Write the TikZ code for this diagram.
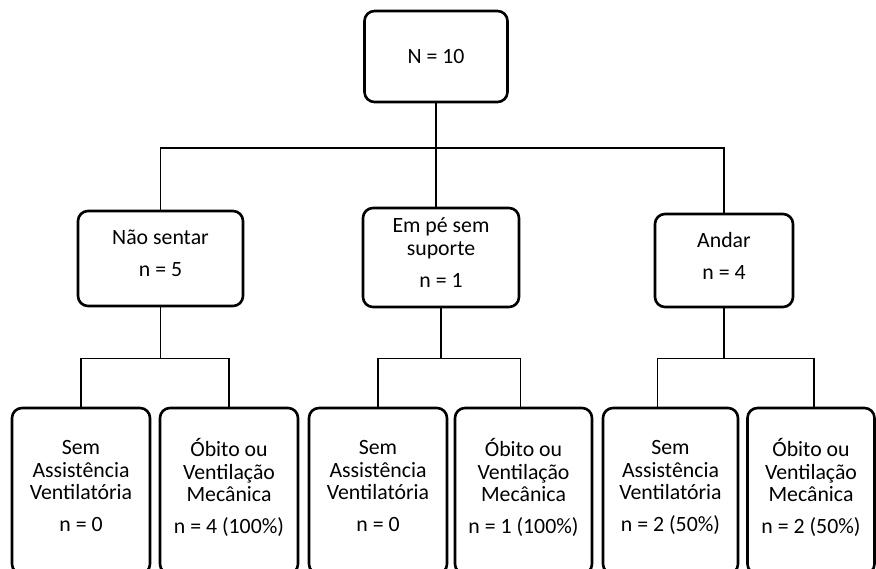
\documentclass[tikz,border=0pt]{standalone}
\usepackage{fontspec}
\setmainfont{Carlito}
\usetikzlibrary{calc}

\begin{document}
\lineskiplimit=-100pt
\begin{tikzpicture}[x=1pt, y=-1pt,
        box/.style={draw, line width=2.6pt, rounded corners=10pt, align=center,
            inner sep=0pt, font=\fontsize{21.8}{22.5}\selectfont,
            execute at begin node=\rule{0pt}{24pt},
            execute at end node=\rule[-10pt]{0pt}{10pt}},
        link/.style={line width=1.1pt}]
        \useasboundingbox (0,0) rectangle (876,569);
        \clip (0,0) rectangle (876,569);

        % Top box
        \node[box, minimum width=143, minimum height=91] (top) at (436,56.5) {N = 10};

        % Middle row
        \node[box, minimum width=165, minimum height=95] (sentar) at (160.5,258.5) {Não sentar\\[9.5pt]n = 5};
        \node[box, minimum width=156, minimum height=99] (empe) at (441,257.5) {Em pé sem\\suporte\\[9.5pt]n = 1};
        \node[box, minimum width=138, minimum height=93] (andar) at (724,260.5) {Andar\\[9.5pt]n = 4};

        % Bottom row
        \node[box, minimum width=138, minimum height=166] (sem1) at (81,491) {Sem\\Assistência\\Ventilatória\\[9.5pt]n = 0};
        \node[box, minimum width=138, minimum height=166] (obito1) at (229,491) {Óbito ou\\Ventilação\\Mecânica\\[9.5pt]n = 4 (100\%)};
        \node[box, minimum width=138, minimum height=166] (sem2) at (378,491) {Sem\\Assistência\\Ventilatória\\[9.5pt]n = 0};
        \node[box, minimum width=137, minimum height=166] (obito2) at (523.5,491) {Óbito ou\\Ventilação\\Mecânica\\[9.5pt]n = 1 (100\%)};
        \node[box, minimum width=135, minimum height=166] (sem3) at (670.5,491) {Sem\\Assistência\\Ventilatória\\[9.5pt]n = 2 (50\%)};
        \node[box, minimum width=127, minimum height=166] (obito3) at (811,491) {Óbito ou\\Ventilação\\Mecânica\\[9.5pt]n = 2 (50\%)};

        % Branch levels
        \coordinate (lvl1) at (0,148);
        \coordinate (lvl2) at (0,358.5);

        % Top to middle row
        \draw[link] (top.south) -- (top.south |- lvl1);
        \draw[link] (sentar.north) |- (andar.north |- lvl1) -- (andar.north);
        \draw[link] (top.south |- lvl1) -- (top.south |- empe.north);

        % Middle to bottom row
        \draw[link] (sentar.south) -- (sentar.south |- lvl2);
        \draw[link] (sem1.north) |- (obito1.north |- lvl2) -- (obito1.north);
        \draw[link] (empe.south) -- (empe.south |- lvl2);
        \draw[link] (sem2.north) |- ([xshift=-3pt]obito2.north |- lvl2) -- ([xshift=-3pt]obito2.north);
        \draw[link] (andar.south) -- (andar.south |- lvl2);
        \draw[link] ([xshift=-13pt]sem3.north) |- ([xshift=3pt]obito3.north |- lvl2) -- ([xshift=3pt]obito3.north);
    \end{tikzpicture}
\end{document}
